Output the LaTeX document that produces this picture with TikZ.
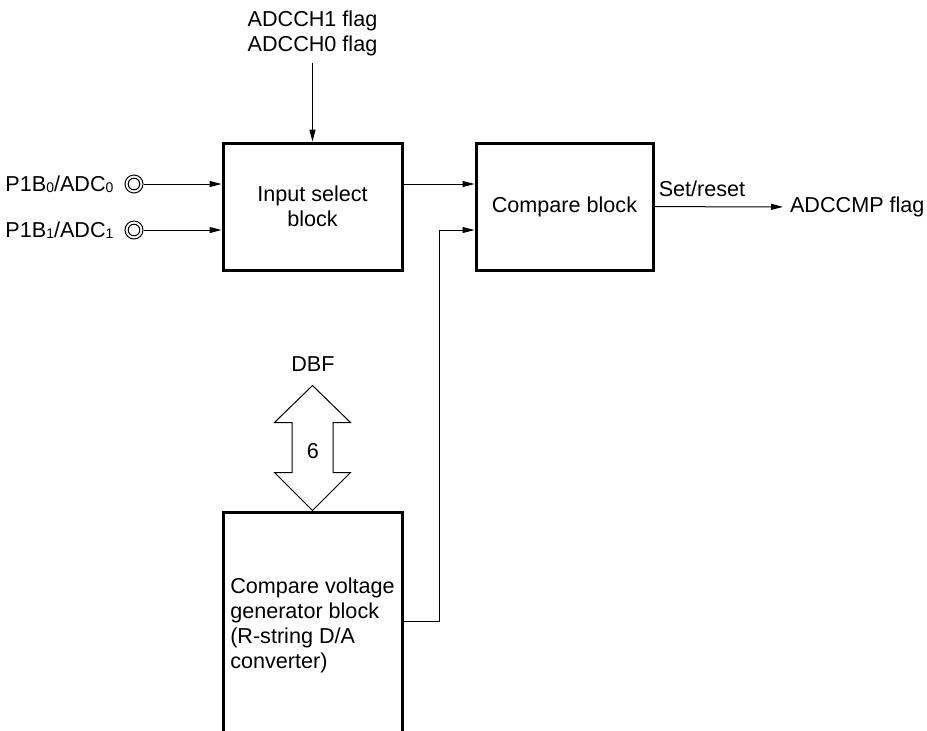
\documentclass[tikz,border=0pt]{standalone}
\usepackage{fontspec}
\setmainfont{Liberation Sans}
\usetikzlibrary{arrows.meta,positioning,calc}
\newcommand\lowidx[1]{\raisebox{-.6pt}{\fontsize{7}{7}\selectfont#1}}

\begin{document}
\begin{tikzpicture}[x=.5pt,y=-.5pt,>={Triangle[length=6pt,width=3pt]},font=\fontsize{10.8}{12.5}\selectfont,
  blk/.style={draw,line width=1.5pt,minimum width=89.5pt,minimum height=63.5pt,align=center,inner sep=0pt},
  term/.style={circle,draw,line width=.5pt,minimum size=9pt,inner sep=0pt},
  wire/.style={line width=.5pt}]
\useasboundingbox (0,0) rectangle (927,730);
% blocks
\node[blk] (sel) at (312.5,206.5){Input select\\block};
\node[blk,minimum width=88.5pt] (cmp) at (564.5,206.5){Compare block};
\node[blk,minimum height=113pt,align=left] (gen) at (312.5,625){Compare voltage\\generator block\\(R-string D/A\\converter)};
% inputs
\foreach \i/\y in {0/184,1/230}{
  \node[term] (t\i) at (134,\y){};
  \draw[line width=.5pt] (t\i.center) circle (2.9pt);
  \node[left=2pt of t\i] (l\i){P1B\lowidx{\i}/ADC\lowidx{\i}};
  \draw[wire,->] (t\i) -- (sel.west|-t\i);}
\node[align=center] (ch) at (312.5,33){ADCCH1 flag\\ADCCH0 flag};
\draw[wire,->] (ch) -- (sel);
\draw[wire,->] (sel.east|-t0) -- (cmp.west|-t0);
\coordinate (tap) at (439,230);
\draw[wire,->] ([yshift=2pt]gen.east) -| (tap) -- (cmp.west|-tap);
% output
\node[anchor=west] (cmpf) at (783,207){ADCCMP flag};
\draw[wire,->] (cmp) -- (cmpf);
\node (sr) at (702,189){Set/reset};
% data bus
\node (dbf) at (313,364){DBF};
\node (bus) at (313,451){6};
\draw[line width=.5pt] (gen.north) -- ++(-38,-38) -- ++(17.5,0) -- ++(0,-50) -- ++(-17.5,0) -- ++(38,-37)
  -- ++(38,37) -- ++(-17.5,0) -- ++(0,50) -- ++(17.5,0) -- cycle;
\end{tikzpicture}
\end{document}
